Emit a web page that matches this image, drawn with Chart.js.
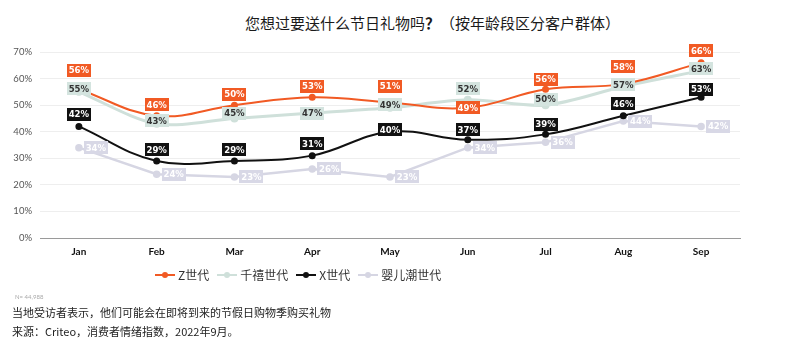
<!DOCTYPE html>
<html>
<head>
<meta charset="utf-8">
<script src="https://cdn.jsdelivr.net/npm/chart.js@4/dist/chart.umd.min.js"></script>
<style>
  body { margin: 0; background: #fff; }
  #wrap { position: relative; width: 800px; height: 352px; overflow: hidden; font-family: "Noto Sans CJK SC", "Noto Sans", sans-serif; }
  #title { position: absolute; top: 12px; left: 0; width: 865px; text-align: center; font-size: 15px; color: #1a1a1a; }
  #chart { position: absolute; top: 30px; left: 0; }
  #legend { position: absolute; top: 266px; left: 155px; display: flex; align-items: center; font-size: 12px; color: #333; }
  #legend .item { display: flex; align-items: center; margin-right: 8px; }
  #legend .mark { position: relative; width: 20px; height: 8px; margin-right: 3px; }
  #legend .mark i { position: absolute; left: 0; right: 0; top: 3px; height: 2px; }
  #legend .mark b { position: absolute; left: 7px; top: 1px; width: 6px; height: 6px; border-radius: 50%; }
  #n { position: absolute; top: 293px; left: 15px; font-size: 6px; color: #aaa; font-family: Lato, sans-serif; }
  .note { position: absolute; left: 12px; font-size: 11px; color: #222; }
</style>
</head>
<body>
<div id="wrap">
  <div id="title">您想过要送什么节日礼物吗<b>？</b>（按年龄段区分客户群体）</div>
  <canvas id="chart" width="800" height="240"></canvas>
  <div id="legend"></div>
  <div id="n">N= 44,988</div>
  <div class="note" style="top:304px">当地受访者表示，他们可能会在即将到来的节假日购物季购买礼物</div>
  <div class="note" style="top:323px">来源：Criteo，消费者情绪指数，2022年9月。</div>
</div>
<script>
const months = ['Jan', 'Feb', 'Mar', 'Apr', 'May', 'Jun', 'Jul', 'Aug', 'Sep'];
const genZ = [56, 46, 50, 53, 51, 49, 56, 58, 66];
const millennials = [55, 43, 45, 47, 49, 52, 50, 57, 63];
const genX = [42, 29, 29, 31, 40, 37, 39, 46, 53];
const boomers = [34, 24, 23, 26, 23, 34, 36, 44, 42];
const yTicks = [0, 10, 20, 30, 40, 50, 60, 70];

// draws the little boxed % labels next to each point
const valueLabels = {
    id: 'valueLabels',
    afterDatasetsDraw(chart) {
        const ctx = chart.ctx;
        ctx.save();
        ctx.font = 'bold 9.5px "DejaVu Sans Condensed", "DejaVu Sans", sans-serif';
        ctx.textAlign = 'center';
        ctx.textBaseline = 'middle';
        chart.data.datasets.forEach(function (ds, i) {
            const meta = chart.getDatasetMeta(i);
            const lb = ds.labelBox;
            meta.data.forEach(function (pt, j) {
                const x = pt.x + lb.dx;
                const y = pt.y + (Array.isArray(lb.dy) ? lb.dy[j] : lb.dy);
                const w = 24, h = 13;
                ctx.fillStyle = lb.bg;
                ctx.fillRect(Math.round(x - w / 2), Math.round(y - h / 2), w, h);
                ctx.fillStyle = lb.color;
                ctx.fillText(ds.data[j] + '%', x, y + 0.5);
            });
        });
        ctx.restore();
    }
};

const datasets = [{
    label: 'Z世代',
    data: genZ,
    borderColor: '#F15A24',
    backgroundColor: '#F15A24',
    borderWidth: 2,
    pointRadius: 2.5,
    tension: 0.4,
    labelBox: { bg: '#F15A24', color: '#fff', dx: 0, dy: [-19, -11, -11, -11, -16, 0, -10, -17, -12] }
}, {
    label: '千禧世代',
    data: millennials,
    borderColor: '#CFE0DA',
    backgroundColor: '#CFE0DA',
    borderWidth: 3,
    pointRadius: 2.5,
    tension: 0.3,
    labelBox: { bg: '#D4E4DF', color: '#333', dx: 0, dy: [-3, -3, -5, 0, -3, -11, -6, -2, -2] }
}, {
    label: 'X世代',
    data: genX,
    borderColor: '#111',
    backgroundColor: '#111',
    borderWidth: 2,
    pointRadius: 2.5,
    tension: 0.4,
    labelBox: { bg: '#111', color: '#fff', dx: 0, dy: [-12, -11, -11, -12, -2, -10, -10, -12, -8] }
}, {
    label: '婴儿潮世代',
    data: boomers,
    borderColor: '#D6D6E3',
    backgroundColor: '#D6D6E3',
    borderWidth: 2.5,
    pointRadius: 2.5,
    tension: 0,
    labelBox: { bg: '#D8D8E6', color: '#fff', dx: 17, dy: 0 }
}];

// draw order: mint under, then lavender, then black, orange on top
datasets[0].order = 0;
datasets[1].order = 3;
datasets[2].order = 1;
datasets[3].order = 2;

new Chart(document.getElementById('chart'), {
    type: 'line',
    data: { labels: months, datasets: datasets },
    options: {
        responsive: false,
        animation: false,
        layout: { padding: { top: 22, right: 60, left: 0, bottom: 0 } },
        plugins: {
            legend: { display: false },
            tooltip: { enabled: false }
        },
        scales: {
            x: {
                offset: true,
                grid: { display: false, drawTicks: false },
                border: { display: true, color: '#9a9a9a', width: 1 },
                ticks: { color: '#111', padding: 8, font: { family: 'Lato', size: 10, weight: 'bold' } },
                afterFit: function (scale) { scale.height = 32; }
            },
            y: {
                min: 0,
                max: 70,
                afterBuildTicks: function (scale) { scale.ticks = yTicks.map(function (v) { return { value: v }; }); },
                grid: {
                    drawTicks: false,
                    color: function (c) { return c.tick && c.tick.value === 0 ? '#9a9a9a' : '#eeeeee'; }
                },
                border: { display: false },
                ticks: {
                    color: '#555',
                    padding: 8,
                    font: { family: 'Lato', size: 9.5 },
                    callback: function (v) { return v + '%'; }
                },
                afterFit: function (scale) { scale.width = 40; }
            }
        }
    },
    plugins: [valueLabels]
});

// legend in html, built from the datasets
const legendEl = document.getElementById('legend');
datasets.forEach(function (ds) {
    const item = document.createElement('div');
    item.className = 'item';
    item.innerHTML = '<span class="mark"><i style="background:' + ds.borderColor + '"></i><b style="background:' + ds.borderColor + '"></b></span>' + ds.label;
    legendEl.appendChild(item);
});
</script>
</body>
</html>
